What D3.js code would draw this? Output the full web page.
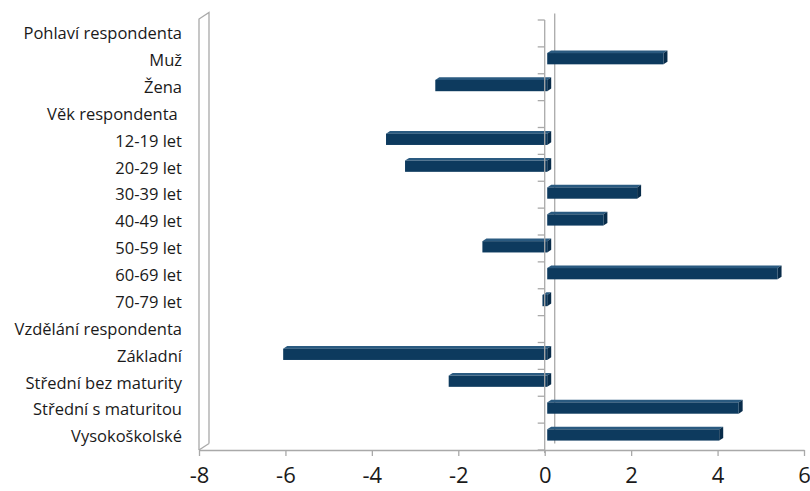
<!DOCTYPE html>
<html>
<head>
<meta charset="utf-8">
<script src="https://cdn.jsdelivr.net/npm/d3@7"></script>
<style>
  html, body { margin: 0; padding: 0; background: #fff; }
  svg { display: block; }
  .cat { font-family: "Open Sans", Lato, sans-serif; font-size: 16.5px; fill: #1a1a1a; white-space: pre; }
  .xax text { font-family: "Open Sans", Lato, sans-serif; font-size: 22px; fill: #1a1a1a; }
</style>
</head>
<body>
<svg id="chart" width="810" height="491"></svg>
<script>
// Categories (group headings have no value)
const categories = [
  "Pohlaví respondenta", "Muž", "Žena",
  "Věk respondenta ", "12-19 let", "20-29 let", "30-39 let", "40-49 let",
  "50-59 let", "60-69 let", "70-79 let",
  "Vzdělání respondenta", "Základní", "Střední bez maturity",
  "Střední s maturitou", "Vysokoškolské"
];
const values = [
  null, 2.69, -2.59,
  null, -3.73, -3.29, 2.08, 1.30, -1.50, 5.33, -0.11,
  null, -6.11, -2.28, 4.43, 3.98
];
const xTicks = [-8, -6, -4, -2, 0, 2, 4, 6];

const svg = d3.select("#chart");

// front plane of the plot
const x = d3.scaleLinear().domain([-8, 6]).range([199, 804]);
const y = d3.scaleBand().domain(categories).range([20, 450]);

// oblique depth offset for the full depth of the plot box
const DX = 10, DY = -6.5;
const z0 = 0.25, z1 = 0.65;      // bar front / back depth
const barH = y.step() * 0.42;

const gray = "#a9a9a9";

// left side slab at the minimum of the value axis
const xl = x(-8);
svg.append("path")
  .attr("d", `M${xl},450 L${xl},19 L${xl + DX},${19 + DY} L${xl + DX},${450 + DY}`)
  .attr("fill", "none").attr("stroke", gray).attr("stroke-width", 1.3);
svg.append("line")
  .attr("x1", xl).attr("y1", 450).attr("x2", xl + DX).attr("y2", 450 + DY)
  .attr("stroke", gray).attr("stroke-width", 1.3);

// zero line on the back wall
svg.append("line")
  .attr("x1", x(0) + DX).attr("x2", x(0) + DX)
  .attr("y1", 20 + DY).attr("y2", 450 + DY)
  .attr("stroke", gray).attr("stroke-width", 1.3);

// bars: front face, top face, right face
const rows = categories.map((c, i) => ({ c, v: values[i] })).filter(d => d.v !== null);
const bars = svg.append("g");
rows.forEach(d => {
  const xa = x(Math.min(0, d.v)) + z0 * DX;
  const xb = x(Math.max(0, d.v)) + z0 * DX;
  const yc = y(d.c) + y.step() / 2 + z0 * DY;
  const yt = yc - barH / 2, yb = yc + barH / 2;
  const ddx = (z1 - z0) * DX, ddy = (z1 - z0) * DY;
  bars.append("path")
    .attr("d", `M${xa},${yt} L${xa + ddx},${yt + ddy} L${xb + ddx},${yt + ddy} L${xb},${yt} Z`)
    .attr("fill", "#2a5a80");
  bars.append("path")
    .attr("d", `M${xb},${yt} L${xb + ddx},${yt + ddy} L${xb + ddx},${yb + ddy} L${xb},${yb} Z`)
    .attr("fill", "#082c4a");
  bars.append("rect")
    .attr("x", xa).attr("y", yt).attr("width", xb - xa).attr("height", barH)
    .attr("fill", "#0d3a5e");
});

// front category axis at zero with ticks on the band boundaries
svg.append("line")
  .attr("x1", x(0)).attr("x2", x(0)).attr("y1", 20).attr("y2", 453)
  .attr("stroke", gray).attr("stroke-width", 1.3);
svg.append("g").selectAll("line")
  .data(d3.range(categories.length + 1))
  .join("line")
  .attr("x1", x(0) - 7).attr("x2", x(0))
  .attr("y1", i => 20 + i * y.step()).attr("y2", i => 20 + i * y.step())
  .attr("stroke", gray).attr("stroke-width", 1.3);

// category labels
svg.append("g").selectAll("text")
  .data(categories)
  .join("text")
  .attr("class", "cat")
  .attr("x", 182)
  .attr("y", d => y(d) + y.step() / 2)
  .attr("dy", "0.35em")
  .attr("text-anchor", "end")
  .text(d => d);

// value axis along the bottom
const xAxis = svg.append("g")
  .attr("class", "xax")
  .attr("transform", "translate(0,450)")
  .call(d3.axisBottom(x).tickValues(xTicks).tickSize(6).tickSizeOuter(0).tickPadding(11)
    .tickFormat(d3.format("d")));
xAxis.selectAll("path, line").attr("stroke", gray).attr("stroke-width", 1.3);
xAxis.selectAll("text").text(d => String(d).replace("\u2212", "-"));
</script>
</body>
</html>
